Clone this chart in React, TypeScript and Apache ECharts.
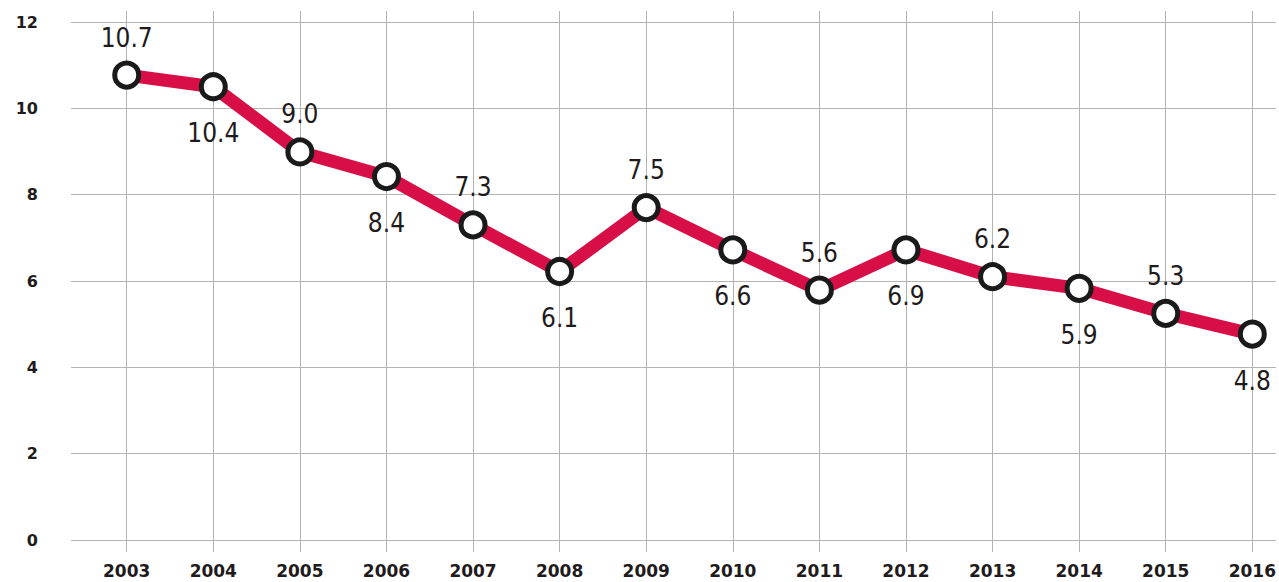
import React, { useEffect, useRef } from "react";
import * as echarts from "echarts";

const years = ["2003", "2004", "2005", "2006", "2007", "2008", "2009", "2010", "2011", "2012", "2013", "2014", "2015", "2016"];
const rates = [10.77, 10.5, 8.99, 8.42, 7.3, 6.22, 7.7, 6.72, 5.79, 6.72, 6.1, 5.83, 5.25, 4.77];
const rateLabels = ["10.7", "10.4", "9.0", "8.4", "7.3", "6.1", "7.5", "6.6", "5.6", "6.9", "6.2", "5.9", "5.3", "4.8"];

const GRID_COLOR = "#b3b3b3";
const TEXT_COLOR = "#1f1b1c";
const LINE_COLOR = "#d80f47";

export default function App() {
  const ref = useRef<HTMLDivElement>(null);
  useEffect(() => {
    if (!ref.current) return;
    const chart = echarts.init(ref.current, undefined, { renderer: "svg" });
    const seriesData = rates.map((v, i) => ({
      value: v,
      label: {
        position: i % 2 === 0 ? "top" : "bottom",
        distance: i % 2 === 0 ? 10 : 19,
      },
    }));
    chart.setOption({
      animation: false,
      backgroundColor: "#ffffff",
      grid: [
        { left: 71, right: 3, top: 22, bottom: 42 },
        { left: 126.7, right: 26.7, top: 11, bottom: 30 },
      ],
      xAxis: [
        { gridIndex: 0, type: "category", data: years, show: false },
        {
          gridIndex: 1,
          type: "category",
          data: years,
          boundaryGap: false,
          axisLine: { show: false },
          axisTick: { show: false },
          splitLine: { show: true, lineStyle: { color: GRID_COLOR, width: 1 } },
          axisLabel: {
            margin: 10,
            color: TEXT_COLOR,
            fontFamily: "DejaVu Sans",
            fontWeight: "bold",
            fontSize: 17,
          },
        },
      ],
      yAxis: [
        {
          gridIndex: 0,
          type: "value",
          min: 0,
          max: 12,
          interval: 2,
          axisLine: { show: false },
          axisTick: { show: false },
          splitLine: { show: true, lineStyle: { color: GRID_COLOR, width: 1 } },
          axisLabel: {
            margin: 33,
            color: TEXT_COLOR,
            fontFamily: "DejaVu Sans",
            fontWeight: "bold",
            fontSize: 16,
          },
        },
        {
          gridIndex: 1,
          type: "value",
          min: -0.278,
          max: 12.255,
          show: false,
          splitLine: { show: false },
        },
      ],
      series: [
        {
          type: "line",
          xAxisIndex: 1,
          yAxisIndex: 1,
          data: seriesData,
          symbol: "circle",
          symbolSize: 24,
          lineStyle: { color: LINE_COLOR, width: 13 },
          itemStyle: { color: "#ffffff", borderColor: "#1a1a1a", borderWidth: 5 },
          label: {
            show: true,
            formatter: (p: any) => rateLabels[p.dataIndex],
            fontFamily: "'Liberation Sans Narrow', 'DejaVu Sans Condensed', 'Roboto', sans-serif",
            fontSize: 26,
            color: TEXT_COLOR,
          },
          emphasis: { disabled: true },
        },
      ],
    });
    return () => chart.dispose();
  }, []);
  return (
    <div
      ref={ref}
      style={{ position: "fixed", left: 0, top: 0, width: 1279, height: 582 }}
    />
  );
}
